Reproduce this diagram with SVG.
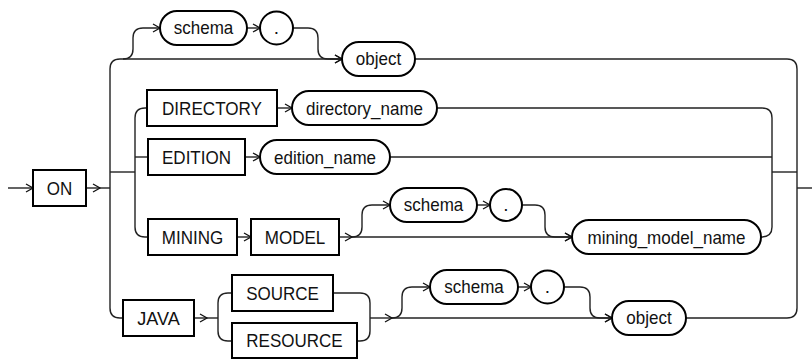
<svg xmlns="http://www.w3.org/2000/svg" width="812" height="360" viewBox="0 0 812 360">
<defs>
<marker id="arr" markerUnits="userSpaceOnUse" markerWidth="10" markerHeight="10" refX="8" refY="5" orient="auto">
<path d="M1,1 L8,5 L1,9" fill="none" stroke="#111" stroke-width="1.3"/>
</marker>
<style>
.box{fill:#fff;stroke:#000;stroke-width:2}
.c{fill:none;stroke:#222;stroke-width:1.4}
.a{marker-end:url(#arr)}
text{font-family:"Liberation Sans",Arial,sans-serif;font-size:19px;fill:#111;text-anchor:middle}
</style>
</defs>
<rect width="812" height="360" fill="#fff"/>
<g id="connectors">
<path class="c a" d="M8,188 H33"/>
<path class="c a" d="M86,188 H100"/>
<path class="c" d="M100,188 H110"/>
<path class="c" d="M123,318 H120 Q110,318 110,308 V69 Q110,59 120,59 H342"/>
<path class="c a" d="M330,59 H342"/>
<path class="c a" d="M123,59 Q133,59 133,49 V38 Q133,28 143,28 H160"/>
<path class="c a" d="M247,28 H260"/>
<path class="c a" d="M293,28 H308 Q318,28 318,38 V49 Q318,59 328,59 H342"/>
<path class="c" d="M415,59 H787 Q797,59 797,69 V308 Q797,318 787,318 H686"/>
<path class="c" d="M797,188 H812"/>
<path class="c" d="M110,172 H135"/>
<path class="c" d="M148,108 H145 Q135,108 135,118 V227 Q135,237 145,237 H148"/>
<path class="c" d="M135,157 H148"/>
<path class="c a" d="M277,108 H292"/>
<path class="c" d="M437,108 H762 Q772,108 772,118 V227 Q772,237 761,237"/>
<path class="c a" d="M245,157 H260"/>
<path class="c" d="M390,157 H772"/>
<path class="c" d="M772,172 H797"/>
<path class="c a" d="M237,237 H251"/>
<path class="c a" d="M339,237 H352"/>
<path class="c a" d="M352,237 H572"/>
<path class="c a" d="M352,237 Q362,237 362,227 V215 Q362,205 372,205 H390"/>
<path class="c a" d="M477,205 H490"/>
<path class="c a" d="M522,205 H535 Q545,205 545,215 V227 Q545,237 555,237 H572"/>
<path class="c a" d="M194,318 H207"/>
<path class="c" d="M207,318 H218"/>
<path class="c" d="M232,293 H228 Q218,293 218,303 V331 Q218,341 228,341 H232"/>
<path class="c" d="M333,293 H360 Q370,293 370,303 V331 Q370,341 360,341 H357"/>
<path class="c a" d="M370,318 H392"/>
<path class="c a" d="M392,318 H612"/>
<path class="c a" d="M392,318 Q402,318 402,308 V297 Q402,287 412,287 H430"/>
<path class="c a" d="M518,287 H531"/>
<path class="c a" d="M564,287 H580 Q590,287 590,297 V308 Q590,318 600,318 H612"/>
</g>
<g id="ON"><rect class="box" x="33" y="170" width="53" height="36"/><text x="59.5" y="194.5" textLength="25.5" lengthAdjust="spacingAndGlyphs">ON</text></g>
<g id="schema1"><rect class="box" x="160" y="11" width="87" height="34" rx="17"/><text x="203.5" y="33.5" textLength="59.5" lengthAdjust="spacingAndGlyphs">schema</text></g>
<g id="dot1"><circle class="box" cx="276.5" cy="28" r="16.5"/><text x="276.5" y="34">.</text></g>
<g id="object1"><rect class="box" x="342" y="42" width="73" height="34" rx="17"/><text x="378.5" y="64.5" textLength="45.4" lengthAdjust="spacingAndGlyphs">object</text></g>
<g id="DIRECTORY"><rect class="box" x="147" y="90" width="130" height="36"/><text x="212" y="114.5" textLength="100" lengthAdjust="spacingAndGlyphs">DIRECTORY</text></g>
<g id="directory_name"><rect class="box" x="292" y="91" width="145" height="34" rx="17"/><text x="364.5" y="114.5" textLength="117" lengthAdjust="spacingAndGlyphs">directory_name</text></g>
<g id="EDITION"><rect class="box" x="148" y="139" width="97" height="36"/><text x="196.5" y="163.5" textLength="69" lengthAdjust="spacingAndGlyphs">EDITION</text></g>
<g id="edition_name"><rect class="box" x="260" y="140" width="130" height="34" rx="17"/><text x="325" y="163.5" textLength="102" lengthAdjust="spacingAndGlyphs">edition_name</text></g>
<g id="MINING"><rect class="box" x="148" y="219" width="89" height="36"/><text x="192.5" y="243.5" textLength="61.4" lengthAdjust="spacingAndGlyphs">MINING</text></g>
<g id="MODEL"><rect class="box" x="251" y="219" width="88" height="36"/><text x="295" y="243.5" textLength="60.5" lengthAdjust="spacingAndGlyphs">MODEL</text></g>
<g id="schema2"><rect class="box" x="390" y="188" width="87" height="34" rx="17"/><text x="433.5" y="210.5" textLength="59.5" lengthAdjust="spacingAndGlyphs">schema</text></g>
<g id="dot2"><circle class="box" cx="506" cy="205" r="16"/><text x="506" y="211">.</text></g>
<g id="mining_model_name"><rect class="box" x="572" y="220" width="189" height="34" rx="17"/><text x="666.5" y="243.5" textLength="158" lengthAdjust="spacingAndGlyphs">mining_model_name</text></g>
<g id="JAVA"><rect class="box" x="123" y="300" width="71" height="36"/><text x="158.5" y="324.5" textLength="42.5" lengthAdjust="spacingAndGlyphs">JAVA</text></g>
<g id="SOURCE"><rect class="box" x="232" y="275" width="101" height="36"/><text x="282.5" y="299.5" textLength="72.7" lengthAdjust="spacingAndGlyphs">SOURCE</text></g>
<g id="RESOURCE"><rect class="box" x="232" y="323" width="125" height="35"/><text x="294.5" y="347" textLength="96.3" lengthAdjust="spacingAndGlyphs">RESOURCE</text></g>
<g id="schema3"><rect class="box" x="430" y="270" width="88" height="34" rx="17"/><text x="474" y="292.5" textLength="59.5" lengthAdjust="spacingAndGlyphs">schema</text></g>
<g id="dot3"><circle class="box" cx="547.5" cy="287" r="16.5"/><text x="547.5" y="293">.</text></g>
<g id="object3"><rect class="box" x="612" y="301" width="74" height="34" rx="17"/><text x="649" y="323.5" textLength="45.4" lengthAdjust="spacingAndGlyphs">object</text></g>
</svg>
